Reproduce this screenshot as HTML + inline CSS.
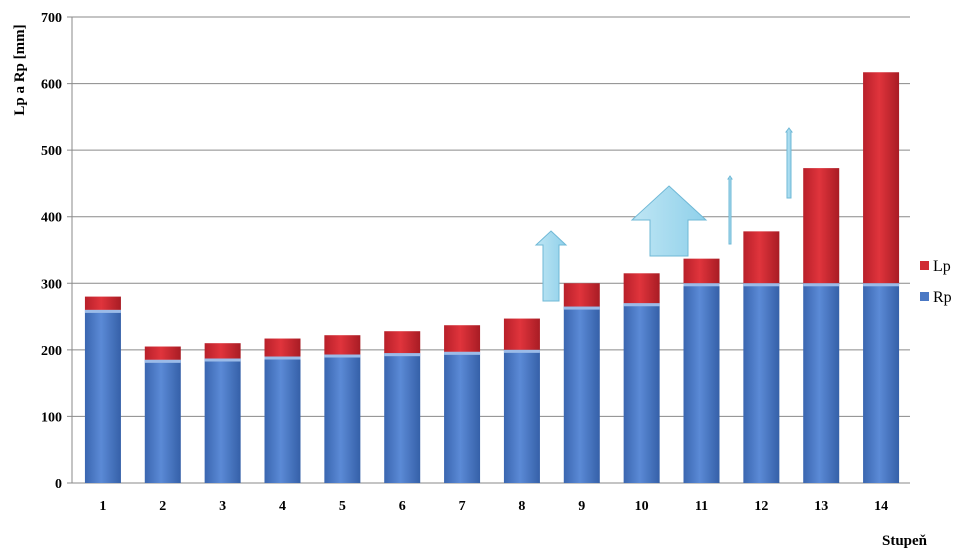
<!DOCTYPE html>
<html><head><meta charset="utf-8"><style>
body{margin:0;background:#fff;}
svg{display:block;font-family:"Liberation Serif",serif;}
</style></head><body>
<svg id="c" width="966" height="557">
<defs>
<linearGradient id="gb" x1="0" x2="1"><stop offset="0" stop-color="#3a66b0"/><stop offset="0.45" stop-color="#5b8ad6"/><stop offset="1" stop-color="#3560a8"/></linearGradient>
<linearGradient id="gr" x1="0" x2="1"><stop offset="0" stop-color="#b8202a"/><stop offset="0.45" stop-color="#e0343c"/><stop offset="1" stop-color="#a81c24"/></linearGradient>
<linearGradient id="ga" x1="0" x2="1"><stop offset="0" stop-color="#bfe6f4"/><stop offset="1" stop-color="#8fd0ea"/></linearGradient>
</defs>
<g id="grid"></g><g id="bars"></g>
<g fill="url(#ga)" stroke="#6fb8d6" stroke-width="1">
<polygon points="551,231 566,245 559,245 559,301 543,301 543,245 536,245"/>
<polygon points="669,186 706,220 688,220 688,256 650,256 650,220 632,220"/>
<polygon points="730,176 732,179 731,179 731,244 729,244 729,179 728,179"/>
<polygon points="789,128 792,132 791,132 791,198 787,198 787,132 786,132"/>
</g>
<text x="24" y="70" transform="rotate(-90 24 70)" text-anchor="middle" font-weight="bold" font-size="15">Lp a Rp [mm]</text>
<text x="882" y="545" font-weight="bold" font-size="15">Stupeň</text>
<g>
<rect x="920" y="261" width="9" height="9" fill="#d02a32"/>
<text x="933" y="271" font-size="16">Lp</text>
<rect x="920" y="292" width="9" height="9" fill="#4a78c4"/>
<text x="933" y="302" font-size="16">Rp</text>
</g>
</svg>
<script>
const categories=["1","2","3","4","5","6","7","8","9","10","11","12","13","14"];
const rpValues=[260,185,187,190,193,195,197,200,265,270,300,300,300,300];
const lpValues=[20,20,23,27,29,33,40,47,35,45,37,78,173,317];
const yTicks=[0,100,200,300,400,500,600,700];
const NS="http://www.w3.org/2000/svg";
const x0=72,x1=910,yBase=483,yTop=17,yMax=700;
const y=v=>yBase-(v/yMax)*(yBase-yTop);
const step=(x1-x0)/categories.length;
const xc=i=>x0+step*(i+0.5)+1;
function mk(t,a,p){const e=document.createElementNS(NS,t);for(const k in a)e.setAttribute(k,a[k]);p.appendChild(e);return e;}
const grid=document.getElementById('grid'),bars=document.getElementById('bars');
yTicks.forEach(v=>{
 const l=mk('line',{x1:x0-5,x2:x1,y1:y(v),y2:y(v),stroke:'#8a8a8a','stroke-width':1},grid);
 
 
 const t=mk('text',{x:x0-10,y:y(v)+5,'text-anchor':'end','font-size':14,'font-weight':'bold'},grid);
 t.textContent=v;
 
 
});
const ax=mk('line',{x1:x0,x2:x0,y1:yTop,y2:yBase,stroke:'#8a8a8a'},grid);


const bw=36;
categories.forEach((c,i)=>{
 const cx=xc(i);
 const r=mk('rect',{x:cx-bw/2,y:y(rpValues[i]),width:bw,height:yBase-y(rpValues[i]),fill:'url(#gb)'},bars);
 
 
 const tot=rpValues[i]+lpValues[i];
 const q=mk('rect',{x:cx-bw/2,y:y(tot),width:bw,height:y(rpValues[i])-y(tot),fill:'url(#gr)'},bars);
 
 
 mk('rect',{x:cx-bw/2,y:y(rpValues[i]),width:bw,height:3,fill:'#9bbbe8'},bars);
 const t=mk('text',{x:cx,y:510,'text-anchor':'middle','font-size':14,'font-weight':'bold'},grid);
 t.textContent=c;
 
 
});
</script>
</body></html>
